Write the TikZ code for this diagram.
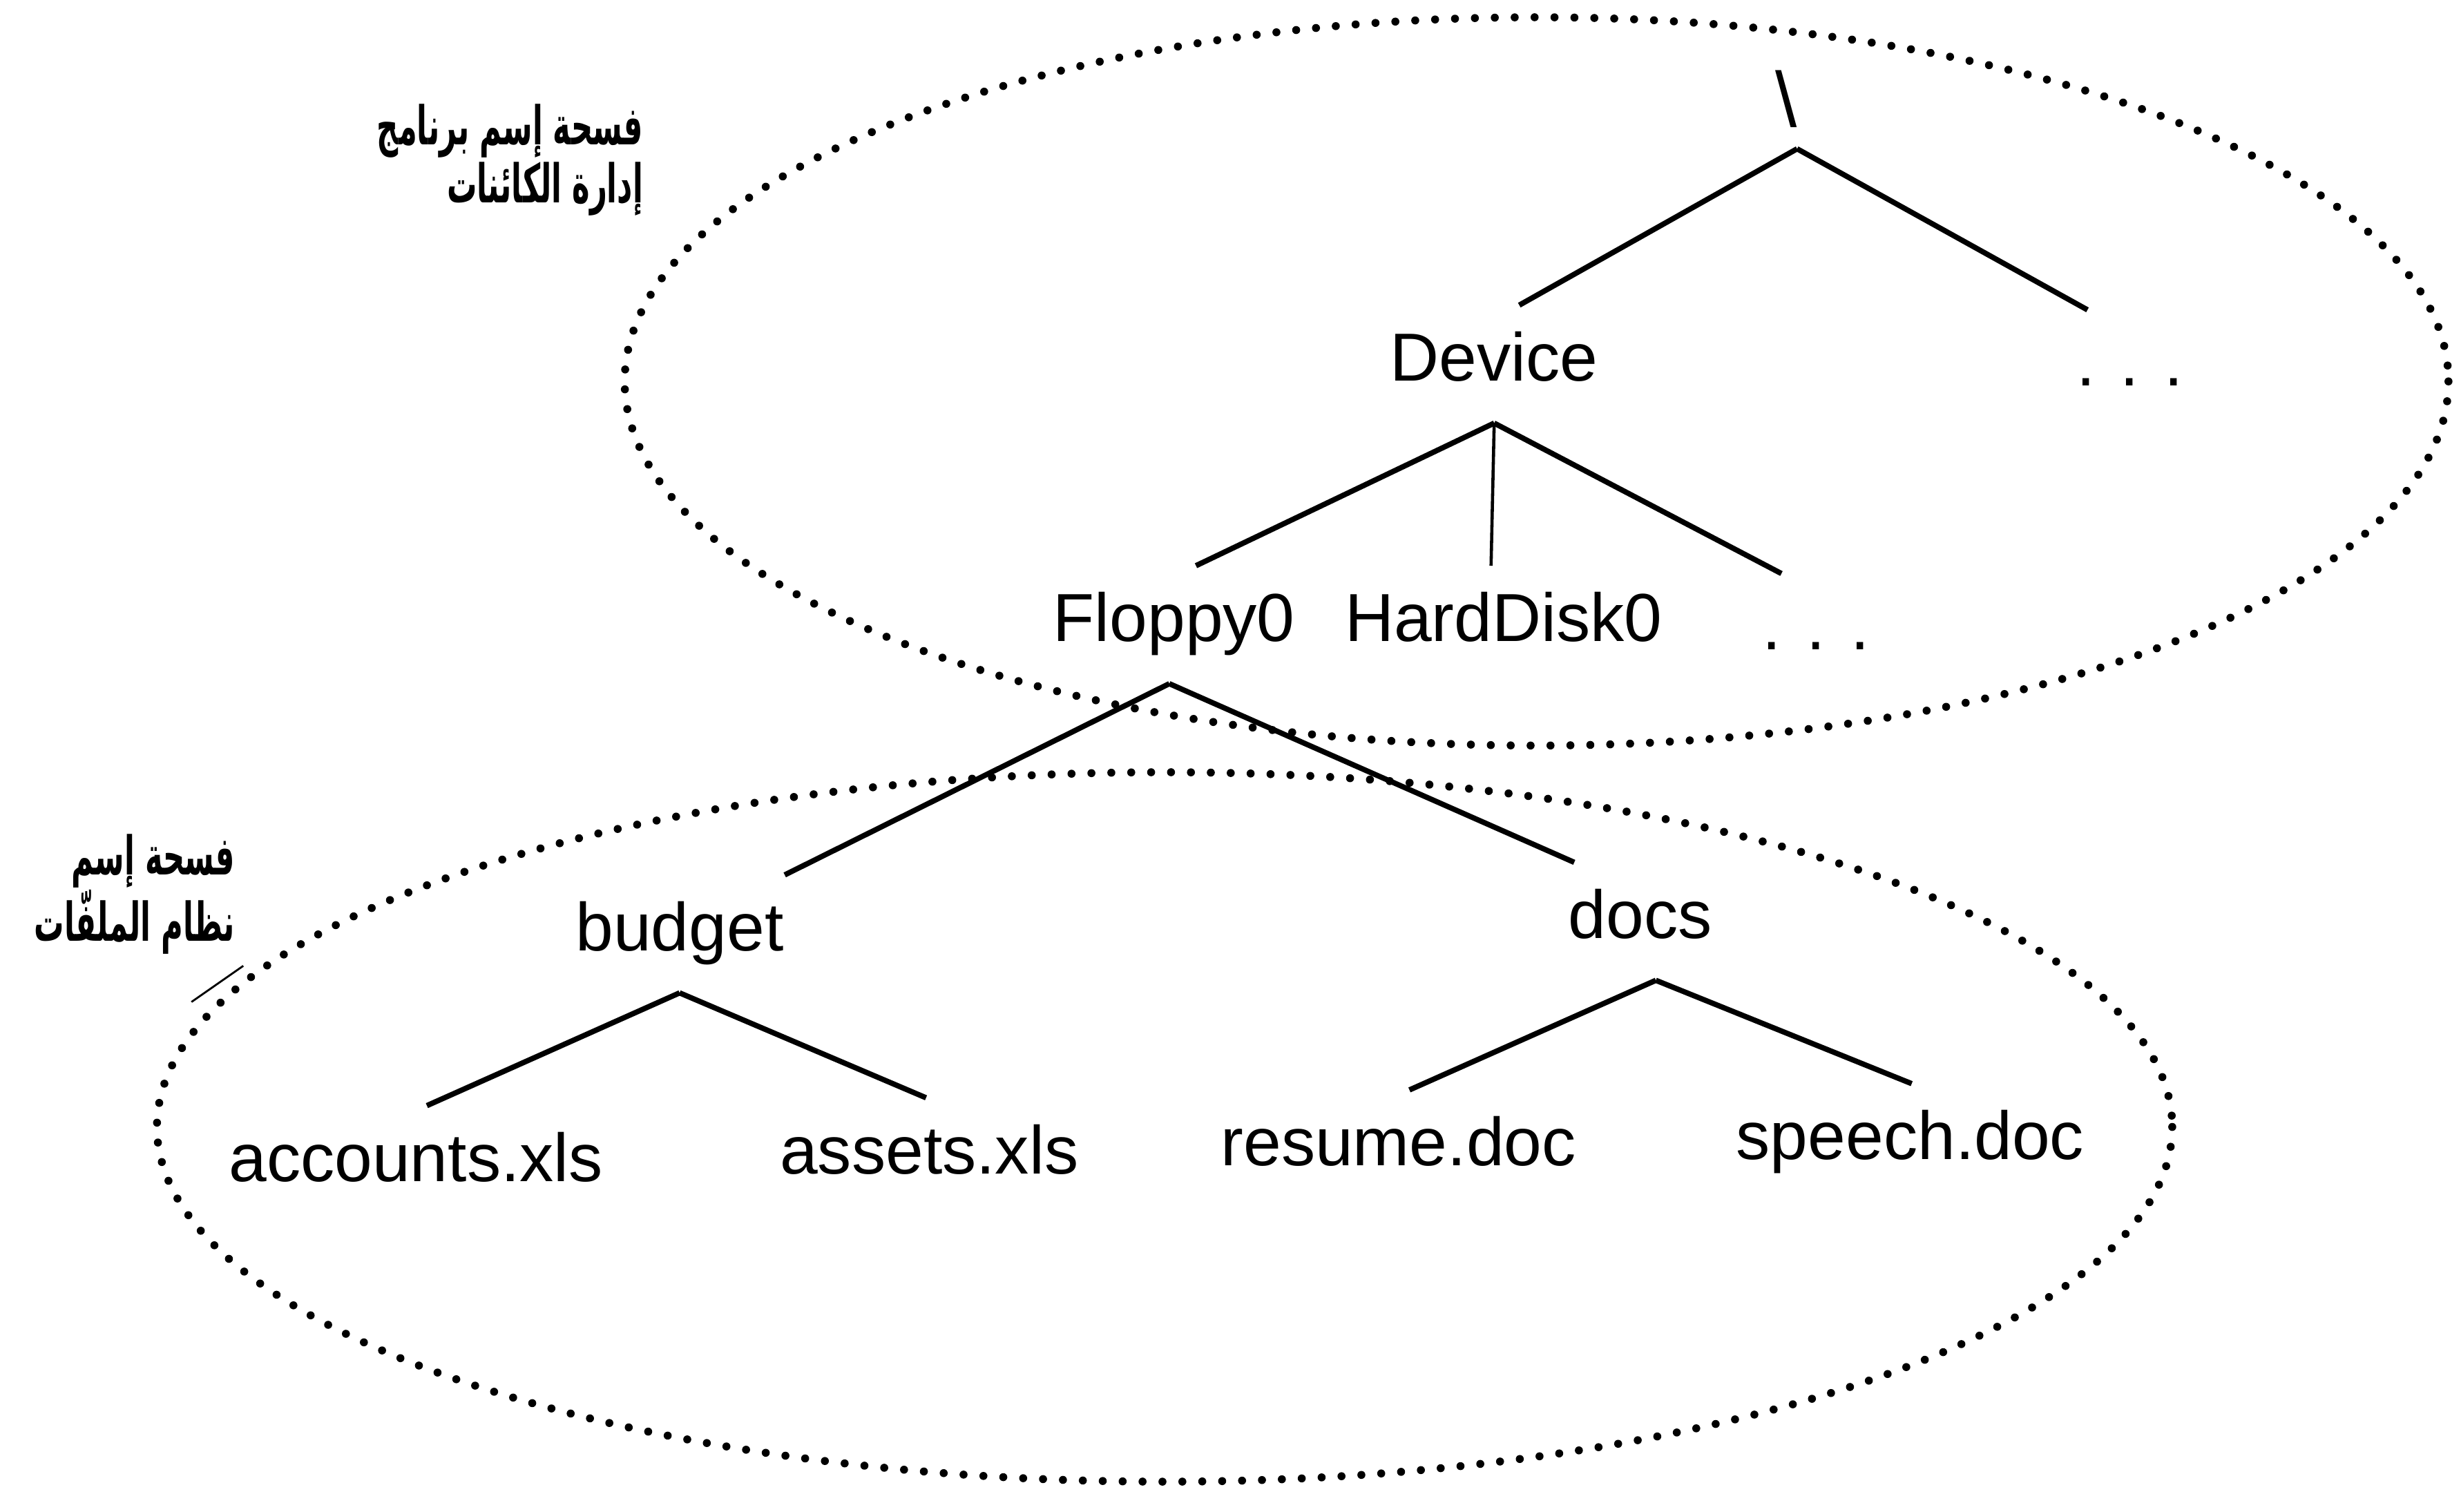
\documentclass[tikz,border=0pt]{standalone}
\usepackage{fontspec}
\setmainfont{Liberation Sans}
\newfontfamily\arabicfont[Script=Arabic,FakeStretch=0.56]{DejaVu Sans}
\TeXXeTstate=1
\usetikzlibrary{calc}

\begin{document}
\begin{tikzpicture}[x=0.22723mm,y=-0.22723mm,
  lbl/.style={inner xsep=0pt,inner ysep=3.9mm,text height=20pt,text depth=6pt,font=\fontsize{28}{32}\selectfont},
  branch/.style={line width=2.2pt},
  ring/.style={line width=3.3pt,line cap=round,dash pattern=on 0pt off 8.2pt},
  note/.style={align=right,inner sep=0pt,font=\arabicfont\bfseries\fontsize{22}{24}\selectfont}]
\useasboundingbox (0,0) rectangle (1568,963);
\draw[ring] (979,243) ellipse [x radius=581, y radius=232];
\draw[ring] (742,718) ellipse [x radius=642, y radius=226];
\node[lbl,inner ysep=1mm,font=\fontsize{32}{36}\selectfont] (root) at (1138,70) {\textbackslash};
\node[lbl] (device) at (952,232) {Device};
\node[lbl] (dots1) at (1357,235) {. . .};
\node[lbl] (floppy) at (748,398) {Floppy0};
\node[lbl] (hdd) at (958,398) {HardDisk0};
\node[lbl] (dots2) at (1157,403) {. . .};
\node[lbl] (budget) at (433,595) {budget};
\node[lbl] (docs) at (1045,587) {docs};
\node[lbl] (accounts) at (265,742) {accounts.xls};
\node[lbl] (assets) at (592,737) {assets.xls};
\node[lbl] (resume) at (891,732) {resume.doc};
\node[lbl] (speech) at (1217,728) {speech.doc};
\draw[branch] ($(root.south)+(7,0)$) -- ($(device.north)+(16,0)$);
\draw[branch] ($(root.south)+(7,0)$) -- ($(dots1.north)+(-27,0)$);
\draw[branch] (device.south) -- ($(floppy.north)+(14,0)$);
\draw[line width=1.3pt] (device.south) -- ($(hdd.north)+(-8,0)$);
\draw[branch] (device.south) -- ($(dots2.north)+(-22,0)$);
\draw[branch] ($(floppy.south)+(-3,0)$) -- ($(budget.north)+(67,0)$);
\draw[branch] ($(floppy.south)+(-3,0)$) -- ($(docs.north)+(-42,0)$);
\draw[branch] (budget.south) -- ($(accounts.north)+(7,0)$);
\draw[branch] (budget.south) -- ($(assets.north)+(-2,0)$);
\draw[branch] ($(docs.south)+(10,0)$) -- ($(resume.north)+(7,0)$);
\draw[branch] ($(docs.south)+(10,0)$) -- ($(speech.north)+(1,0)$);
\node[note,anchor=north east] (nsobj) at (410,66) {\beginR فسحة إسم برنامج\endR\\\beginR إدارة الكائنات\endR};
\node[note,anchor=north east] (nsfile) at (150,531) {\beginR فسحة إسم\endR\\\beginR نظام الملفّات\endR};
\draw[line width=0.8pt] ($(nsfile.south east)+(-28,30)$) -- +(33,-23);
\end{tikzpicture}
\end{document}
